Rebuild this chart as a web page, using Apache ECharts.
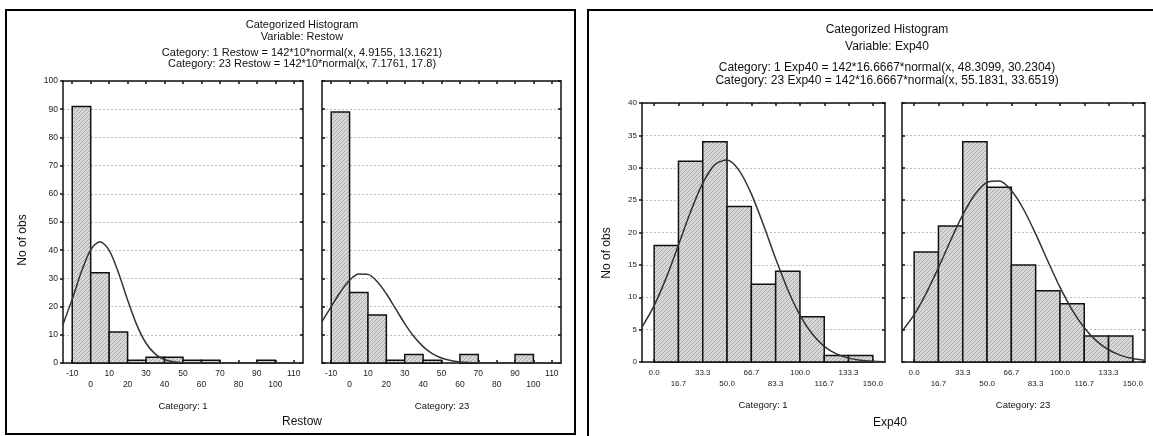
<!DOCTYPE html>
<html>
<head>
<meta charset="utf-8">
<script src="https://cdn.jsdelivr.net/npm/echarts@6/dist/echarts.min.js"></script>
<style>
html,body{margin:0;padding:0;background:#fff;}
#chart{width:1153px;height:436px;}
</style>
</head>
<body>
<div id="chart"></div>
<script>
// ---------- data ----------
const restowTicks = [-10, 0, 10, 20, 30, 40, 50, 60, 70, 80, 90, 100, 110];
const restowBinEdges = [-10, 0, 10, 20, 30, 40, 50, 60, 70, 80, 90, 100, 110];
const restowCat1Counts = [91, 32, 11, 1, 2, 2, 1, 1, 0, 0, 1, 0];
const restowCat23Counts = [89, 25, 17, 1, 3, 1, 0, 3, 0, 0, 3, 0];
const restowCurveX = [-15, -10, -5, 0, 5, 10, 15, 20, 25, 30, 35, 40, 45, 50, 55, 60, 65, 70, 75, 80, 85, 90, 95, 100, 105, 110, 115];
const restowCat1Curve = [13.70, 22.65, 32.41, 40.14, 43.04, 39.95, 32.10, 22.32, 13.43, 7.00, 3.16, 1.23, 0.42, 0.12, 0.03, 0.01, 0, 0, 0, 0, 0, 0, 0, 0, 0, 0, 0];
const restowCat23Curve = [14.65, 19.98, 25.19, 29.34, 31.59, 31.43, 28.90, 24.55, 19.28, 13.99, 9.38, 5.82, 3.33, 1.76, 0.86, 0.39, 0.16, 0.06, 0.02, 0.01, 0, 0, 0, 0, 0, 0, 0];

const exp40TickValues = [0, 16.6667, 33.3333, 50, 66.6667, 83.3333, 100, 116.6667, 133.3333, 150];
const exp40TickLabels = ['0.0', '16.7', '33.3', '50.0', '66.7', '83.3', '100.0', '116.7', '133.3', '150.0'];
const exp40Cat1Counts = [18, 31, 34, 24, 12, 14, 7, 1, 1];
const exp40Cat23Counts = [17, 21, 34, 27, 15, 11, 9, 4, 4];
const exp40CurveX = [-8.3333, 0, 8.3333, 16.6667, 25, 33.3333, 41.6667, 50, 58.3333, 66.6667, 75, 83.3333, 91.6667, 100, 108.3333, 116.6667, 125, 133.3333, 141.6667, 150, 158.3333];
const exp40Cat1Curve = [5.40, 8.71, 13.03, 18.06, 23.20, 27.62, 30.48, 31.18, 29.56, 25.97, 21.15, 15.96, 11.16, 7.24, 4.35, 2.42, 1.25, 0.60, 0.27, 0.11, 0.04];
const exp40Cat23Curve = [4.73, 7.31, 10.65, 14.57, 18.77, 22.72, 25.88, 27.73, 27.94, 26.47, 23.59, 19.78, 15.59, 11.56, 8.06, 5.29, 3.26, 1.89, 1.03, 0.53, 0.26];

// ---------- helpers ----------
const tile = document.createElement('canvas');
tile.width = 4; tile.height = 4;
(function () {
  const c = tile.getContext('2d');
  c.fillStyle = '#d8d8d8'; c.fillRect(0, 0, 4, 4);
  c.fillStyle = '#ababab';
  for (let i = 0; i < 4; i++) c.fillRect(i, 3 - i, 1, 1);
})();
const hatch = { image: tile, repeat: 'repeat' };

function bins(edges, counts) {
  return counts.map((c, i) => [edges[i], edges[i + 1], c]);
}
function zip(xs, ys) { return xs.map((x, i) => [x, ys[i]]); }

function histRender(params, api) {
  const h = api.value(2);
  if (!h) return null;
  const p0 = api.coord([api.value(0), 0]);
  const p1 = api.coord([api.value(1), h]);
  return {
    type: 'rect',
    shape: { x: p0[0], y: p1[1], width: p1[0] - p0[0], height: p0[1] - p1[1] },
    style: { fill: hatch, stroke: '#111', lineWidth: 1.5 }
  };
}

const FONT = 'Liberation Sans, Arial, sans-serif';
const panels = [
  { left: 63, top: 81, width: 240, height: 282, xmin: -15, xmax: 115, ymax: 100, yint: 10, ticks: restowTicks, fs: 8.5,
    fmt: v => String(v), labels: true, counts: restowCat1Counts, edges: restowBinEdges, cx: restowCurveX, cy: restowCat1Curve },
  { left: 322, top: 81, width: 239, height: 282, xmin: -15, xmax: 115, ymax: 100, yint: 10, ticks: restowTicks, fs: 8.5,
    fmt: v => String(v), labels: false, counts: restowCat23Counts, edges: restowBinEdges, cx: restowCurveX, cy: restowCat23Curve },
  { left: 642, top: 103, width: 243, height: 259, xmin: -8.3333, xmax: 158.3333, ymax: 40, yint: 5, ticks: exp40TickValues, fs: 8,
    fmt: v => exp40TickLabels[exp40TickValues.indexOf(v)], labels: true, counts: exp40Cat1Counts, edges: exp40TickValues, cx: exp40CurveX, cy: exp40Cat1Curve },
  { left: 902, top: 103, width: 243, height: 259, xmin: -8.3333, xmax: 158.3333, ymax: 40, yint: 5, ticks: exp40TickValues, fs: 8,
    fmt: v => exp40TickLabels[exp40TickValues.indexOf(v)], labels: false, counts: exp40Cat23Counts, edges: exp40TickValues, cx: exp40CurveX, cy: exp40Cat23Curve }
];

const grid = [], xAxis = [], yAxis = [], series = [];
const lineBlack = { color: '#111', width: 1.5 };
panels.forEach((p, g) => {
  grid.push({ left: p.left, top: p.top, width: p.width, height: p.height });
  xAxis.push({
    type: 'value', gridIndex: g, position: 'bottom', min: p.xmin, max: p.xmax,
    axisLine: { show: true, onZero: false, lineStyle: lineBlack },
    axisTick: { show: true, inside: true, length: 3, customValues: p.ticks, lineStyle: lineBlack },
    axisLabel: {
      show: true, customValues: p.ticks, fontSize: p.fs, color: '#222', fontFamily: FONT, margin: 5, lineHeight: 11,
      formatter: function (v) {
        const i = p.ticks.indexOf(v);
        const s = p.fmt(v);
        return i % 2 === 0 ? s : '\n' + s;
      }
    },
    splitLine: { show: false }
  });
  xAxis.push({
    type: 'value', gridIndex: g, position: 'top', min: p.xmin, max: p.xmax,
    axisLine: { show: true, onZero: false, lineStyle: lineBlack },
    axisTick: { show: true, inside: true, length: 3, customValues: p.ticks, lineStyle: lineBlack },
    axisLabel: { show: false }, splitLine: { show: false }
  });
  yAxis.push({
    type: 'value', gridIndex: g, position: 'left', min: 0, max: p.ymax, interval: p.yint,
    axisLine: { show: true, onZero: false, lineStyle: lineBlack },
    axisTick: { show: true, inside: !p.labels, length: 3, lineStyle: lineBlack },
    axisLabel: { show: p.labels, fontSize: p.fs, color: '#222', fontFamily: FONT, margin: 5 },
    splitLine: { show: true, lineStyle: { color: '#bdbdbd', width: 1, type: [2, 2] } }
  });
  yAxis.push({
    type: 'value', gridIndex: g, position: 'right', min: 0, max: p.ymax, interval: p.yint,
    axisLine: { show: true, onZero: false, lineStyle: lineBlack },
    axisTick: { show: true, inside: true, length: 3, lineStyle: lineBlack },
    axisLabel: { show: false }, splitLine: { show: false }
  });
  series.push({
    type: 'custom', xAxisIndex: 2 * g, yAxisIndex: 2 * g, renderItem: histRender,
    data: bins(p.edges, p.counts), silent: true, z: 2,
    encode: { x: [0, 1], y: 2 }
  });
  series.push({
    type: 'line', xAxisIndex: 2 * g, yAxisIndex: 2 * g, data: zip(p.cx, p.cy),
    smooth: 0.3, showSymbol: false, symbol: 'none', clip: true, silent: true, z: 3,
    lineStyle: { color: '#333', width: 1.5 }
  });
});

function txt(x, y, s, size, extra) {
  return Object.assign({
    type: 'text', x: x, y: y, silent: true, z: 10,
    style: { text: s, fontSize: size, fontFamily: FONT, fill: '#111', align: 'center', verticalAlign: 'middle' }
  }, extra || {});
}

const graphic = [
  { type: 'rect', shape: { x: 6, y: 10, width: 569, height: 424 }, style: { fill: 'none', stroke: '#000', lineWidth: 2 }, silent: true },
  { type: 'rect', shape: { x: 588, y: 10, width: 600, height: 500 }, style: { fill: 'none', stroke: '#000', lineWidth: 2 }, silent: true },
  txt(302, 25, 'Categorized Histogram', 11),
  txt(302, 37, 'Variable: Restow', 11),
  txt(302, 53, 'Category: 1 Restow = 142*10*normal(x, 4.9155, 13.1621)', 11),
  txt(302, 64, 'Category: 23 Restow = 142*10*normal(x, 7.1761, 17.8)', 11),
  txt(23, 240, 'No of obs', 12, { rotation: Math.PI / 2 }),
  txt(183, 406, 'Category: 1', 9.5),
  txt(442, 406, 'Category: 23', 9.5),
  txt(302, 422, 'Restow', 12),
  txt(887, 30, 'Categorized Histogram', 12),
  txt(887, 47, 'Variable: Exp40', 12),
  txt(887, 68, 'Category: 1 Exp40 = 142*16.6667*normal(x, 48.3099, 30.2304)', 12),
  txt(887, 81, 'Category: 23 Exp40 = 142*16.6667*normal(x, 55.1831, 33.6519)', 12),
  txt(607, 253, 'No of obs', 12, { rotation: Math.PI / 2 }),
  txt(763, 405, 'Category: 1', 9.5),
  txt(1023, 405, 'Category: 23', 9.5),
  txt(890, 423, 'Exp40', 12)
];

const chart = echarts.init(document.getElementById('chart'), null, { renderer: 'canvas' });
chart.setOption({
  animation: false,
  backgroundColor: '#fff',
  grid: grid, xAxis: xAxis, yAxis: yAxis, series: series, graphic: graphic
});
</script>
</body>
</html>
